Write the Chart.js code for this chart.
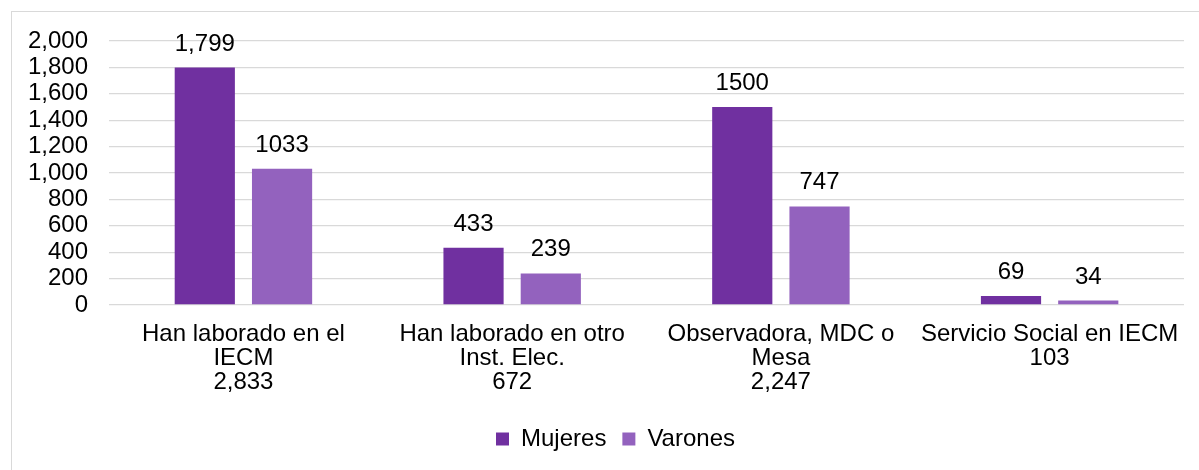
<!DOCTYPE html>
<html>
<head>
<meta charset="utf-8">
<script src="https://cdn.jsdelivr.net/npm/chart.js@4/dist/chart.umd.min.js"></script>
<style>
  html, body { margin: 0; padding: 0; background: #fff; }
  #frame { position: absolute; left: 11px; top: 11px; width: 1200px; height: 470px; border: 1px solid #d9d9d9; box-sizing: border-box; }
  #wrap { position: absolute; left: 0; top: 0; width: 1199px; height: 470px; }
</style>
</head>
<body>
<div id="frame"></div>
<div id="wrap"><canvas id="c" width="1199" height="470"></canvas></div>
<script>
const categories = [
  ["Han laborado en el", "IECM", "2,833"],
  ["Han laborado en otro", "Inst. Elec.", "672"],
  ["Observadora, MDC o", "Mesa", "2,247"],
  ["Servicio Social en IECM", "103"]
];
const mujeres = [1799, 433, 1500, 69];
const varones = [1033, 239, 747, 34];
const mujeresLabels = ["1,799", "433", "1500", "69"];
const varonesLabels = ["1033", "239", "747", "34"];
const yTicks = [0, 200, 400, 600, 800, 1000, 1200, 1400, 1600, 1800, 2000];

const FONT = "'Liberation Sans', Arial, sans-serif";
const FS = 24;

const valueLabels = {
  id: 'valueLabels',
  afterLayout(chart) {
    if (chart.legend) { chart.legend.left += 20; chart.legend.right += 20; }
  },
  afterDatasetsDraw(chart) {
    const ctx = chart.ctx;
    ctx.save();
    ctx.font = FS + "px " + FONT;
    ctx.fillStyle = "#000";
    ctx.textAlign = "center";
    ctx.textBaseline = "alphabetic";
    chart.data.datasets.forEach((ds, di) => {
      const meta = chart.getDatasetMeta(di);
      meta.data.forEach((bar, i) => {
        ctx.fillText(ds.valueText[i], bar.x, bar.y - 17);
      });
    });
    ctx.restore();
  }
};

new Chart(document.getElementById('c'), {
  type: 'bar',
  data: {
    labels: categories,
    datasets: [
      { label: 'Mujeres', data: mujeres, valueText: mujeresLabels, backgroundColor: '#7030A0' },
      { label: 'Varones', data: varones, valueText: varonesLabels, backgroundColor: '#9362BE' }
    ]
  },
  options: {
    responsive: false,
    animation: false,
    devicePixelRatio: 1,
    categoryPercentage: 0.575,
    barPercentage: 0.779,
    layout: { padding: { left: 7, right: 15, top: 41, bottom: 9 } },
    plugins: {
      tooltip: { enabled: false },
      legend: {
        position: 'bottom',
        labels: {
          font: { size: FS, family: FONT },
          color: '#000',
          boxWidth: 13,
          boxHeight: 13,
          padding: 16
        }
      }
    },
    scales: {
      x: {
        grid: { display: false, drawTicks: false },
        border: { display: false },
        ticks: {
          font: { size: FS, family: FONT, lineHeight: 1.0 },
          color: '#000',
          maxRotation: 0,
          autoSkip: false,
          padding: 17
        }
      },
      y: {
        min: 0,
        max: 2000,
        afterBuildTicks(axis) { axis.ticks = yTicks.map(v => ({ value: v })); },
        grid: { color: '#d9d9d9', lineWidth: 1.3, drawTicks: false },
        border: { display: false },
        ticks: {
          font: { size: FS, family: FONT },
          color: '#000',
          padding: 21,
          autoSkip: false,
          callback: v => v.toLocaleString('en-US')
        }
      }
    }
  },
  plugins: [valueLabels]
});
</script>
</body>
</html>
